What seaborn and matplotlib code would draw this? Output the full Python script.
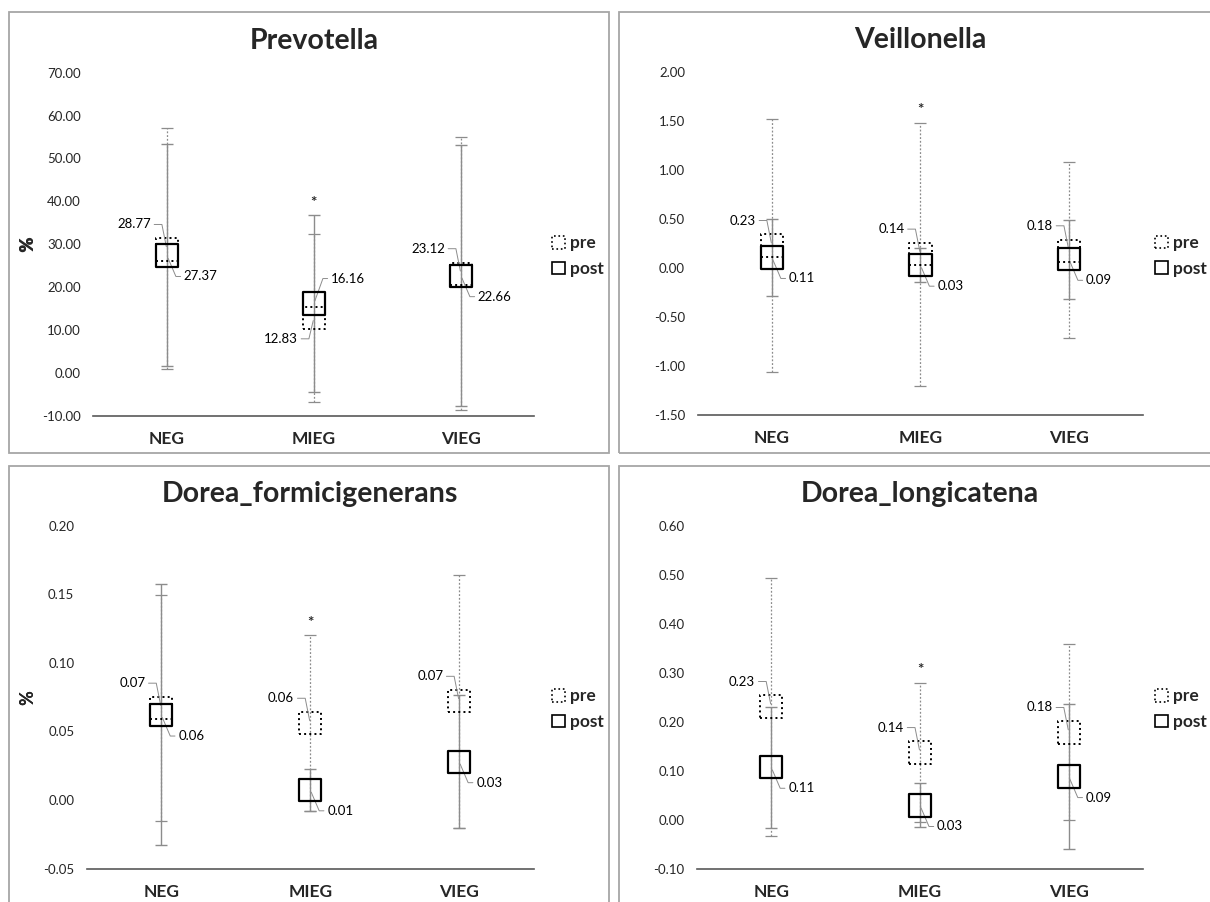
import math
import numpy as np
import pandas as pd
import matplotlib
matplotlib.use("Agg")
import matplotlib.pyplot as plt
import seaborn as sns
from matplotlib.patches import Rectangle, Patch

groups = ["NEG", "MIEG", "VIEG"]
titles = ["Prevotella", "Veillonella", "Dorea_formicigenerans", "Dorea_longicatena"]

# group means (centre of the square markers)
pre_mean = [[28.77, 12.83, 23.12],
            [0.231, 0.143, 0.177],
            [0.067, 0.056, 0.072],
            [0.231, 0.137, 0.178]]
post_mean = [[27.37, 16.16, 22.66],
             [0.109, 0.030, 0.090],
             [0.062, 0.0075, 0.028],
             [0.107, 0.029, 0.088]]

# whisker ends
pre_lo = [[0.8, -6.7, -8.7], [-1.058, -1.204, -0.717], [-0.0153, -0.008, -0.0206], [-0.0333, -0.004, -0.0014]]
pre_hi = [[57.0, 32.4, 55.1], [1.527, 1.486, 1.081], [0.1495, 0.1201, 0.164], [0.4939, 0.2796, 0.3578]]
post_lo = [[1.6, -4.4, -7.8], [-0.281, -0.138, -0.315], [-0.033, -0.008, -0.0206], [-0.0163, -0.0143, -0.0592]]
post_hi = [[53.3, 36.8, 53.1], [0.498, 0.202, 0.492], [0.1572, 0.0229, 0.0766], [0.2306, 0.0741, 0.2354]]

stars = ["", "*", ""]

y_min = [-10, -1.5, -0.05, -0.10]
y_max = [70, 2.0, 0.20, 0.60]
y_step = [10, 0.5, 0.05, 0.10]

W, H = 1210, 902
sns.set_theme(style="white")
plt.rcParams["font.family"] = ["Lato", "DejaVu Sans"]
plt.rcParams["axes.unicode_minus"] = False

fig = plt.figure(figsize=(W / 100, H / 100), dpi=100)

# panel frames and plot areas in pixels (left, top, right, bottom)
frames = [(9, 12, 609, 453), (619, 12, 1218, 453), (9, 466, 609, 910), (619, 466, 1218, 910)]
areas = [(93.4, 72.7, 534.4, 415.7), (697.6, 72.3, 1143.2, 415.0),
         (86.8, 525.7, 533.6, 868.7), (696.8, 525.7, 1143.2, 868.7)]
legend_x = [552, 1155, 552, 1155]

GREY = "#8c8c8c"


def px_rect(r):
    l, t, rr, b = r
    return [l / W, 1 - b / H, (rr - l) / W, (b - t) / H]


def put_label(ax, x, y, txt, left, up):
    dy = 25 if up else -21
    if left:
        dx, cx = -16, -5
    else:
        dx, cx = 17, 9
    ang = math.degrees(math.atan2(dy, cx))
    ax.annotate(txt, xy=(x, y), xytext=(dx * 0.72, dy * 0.72), textcoords="offset points",
                ha="right" if left else "left", va="center", fontsize=9.5, color="black",
                arrowprops=dict(arrowstyle="-", color=GREY, lw=0.7, shrinkA=0, shrinkB=2,
                                connectionstyle=f"angle,angleA=0,angleB={ang:.1f},rad=0"))


for i in range(4):
    l, t, r, b = frames[i]
    fig.patches.append(Rectangle((l / W, 1 - b / H), (r - l) / W, (b - t) / H,
                                 transform=fig.transFigure, fill=False, ec="#a6a6a6", lw=1.3))
    ax = fig.add_axes(px_rect(areas[i]))
    x = np.arange(len(groups))
    pm = np.array(pre_mean[i])
    qm = np.array(post_mean[i])

    eb = ax.errorbar(x, pm, yerr=[pm - np.array(pre_lo[i]), np.array(pre_hi[i]) - pm], fmt="none",
                     ecolor=GREY, elinewidth=0.9, capsize=4, capthick=0.9, zorder=2)
    eb[2][0].set_linestyle((0, (1.5, 1.5)))
    ax.errorbar(x, qm, yerr=[qm - np.array(post_lo[i]), np.array(post_hi[i]) - qm], fmt="none",
                ecolor=GREY, elinewidth=1.0, capsize=4, capthick=1.0, zorder=2)

    df = pd.DataFrame({"pos": np.concatenate([x, x]), "mean": np.concatenate([pm, qm]),
                       "when": ["pre"] * 3 + ["post"] * 3})
    sns.scatterplot(data=df[df.when == "pre"], x="pos", y="mean", marker="s", s=256,
                    facecolor="none", edgecolor="black", linewidth=1.4, linestyle=":", ax=ax, zorder=3)
    sns.scatterplot(data=df[df.when == "post"], x="pos", y="mean", marker="s", s=256,
                    facecolor="none", edgecolor="black", linewidth=1.6, ax=ax, zorder=4)

    for j in range(3):
        up = pm[j] >= qm[j]
        put_label(ax, j, pm[j], f"{pm[j]:.2f}", True, up)
        put_label(ax, j, qm[j], f"{qm[j]:.2f}", False, not up)
        if stars[j]:
            top = max(pre_hi[i][j], post_hi[i][j])
            ax.annotate(stars[j], xy=(j, top), xytext=(0, 9), textcoords="offset points",
                        ha="center", va="center", fontsize=11, fontweight="bold")

    ax.set_xlim(-0.5, 2.5)
    ax.set_ylim(y_min[i], y_max[i])
    ticks = np.arange(y_min[i], y_max[i] + y_step[i] / 2, y_step[i])
    ax.set_yticks(ticks)
    ax.set_yticklabels([f"{v:.2f}" if abs(v) > 1e-9 else "0.00" for v in ticks], fontsize=9.5)
    ax.set_xticks(x)
    ax.set_xticklabels(groups, fontsize=12.5, fontweight="bold")
    ax.tick_params(axis="y", length=0, pad=9)
    ax.tick_params(axis="x", length=0, pad=11)
    ax.set_xlabel("")
    ax.set_ylabel("%", fontsize=13, fontweight="bold")
    ax.yaxis.set_label_coords((36.7 - areas[i][0]) / (areas[i][2] - areas[i][0]), 0.5)
    for s in ["top", "right", "left"]:
        ax.spines[s].set_visible(False)
    ax.spines["bottom"].set_color("#595959")
    ax.spines["bottom"].set_linewidth(1.2)
    ax.patch.set_visible(False)

    ax.text(0.5, 1 + 32 / (areas[i][3] - areas[i][1]), titles[i], transform=ax.transAxes,
            ha="center", va="center", fontsize=20.5, fontweight="bold")

    handles = [Patch(facecolor="none", edgecolor="black", linestyle=":", lw=1.2, label="pre"),
               Patch(facecolor="none", edgecolor="black", lw=1.2, label="post")]
    ax.legend(handles=handles, loc="center left",
              bbox_to_anchor=(legend_x[i] / W, 1 - (areas[i][1] + 183.5) / H),
              bbox_transform=fig.transFigure, frameon=False, handlelength=0.75, handleheight=0.75,
              handletextpad=0.3, borderpad=0, borderaxespad=0, labelspacing=0.55,
              prop=dict(weight="bold", size=12.5))

fig.savefig("out.png", dpi=100)
